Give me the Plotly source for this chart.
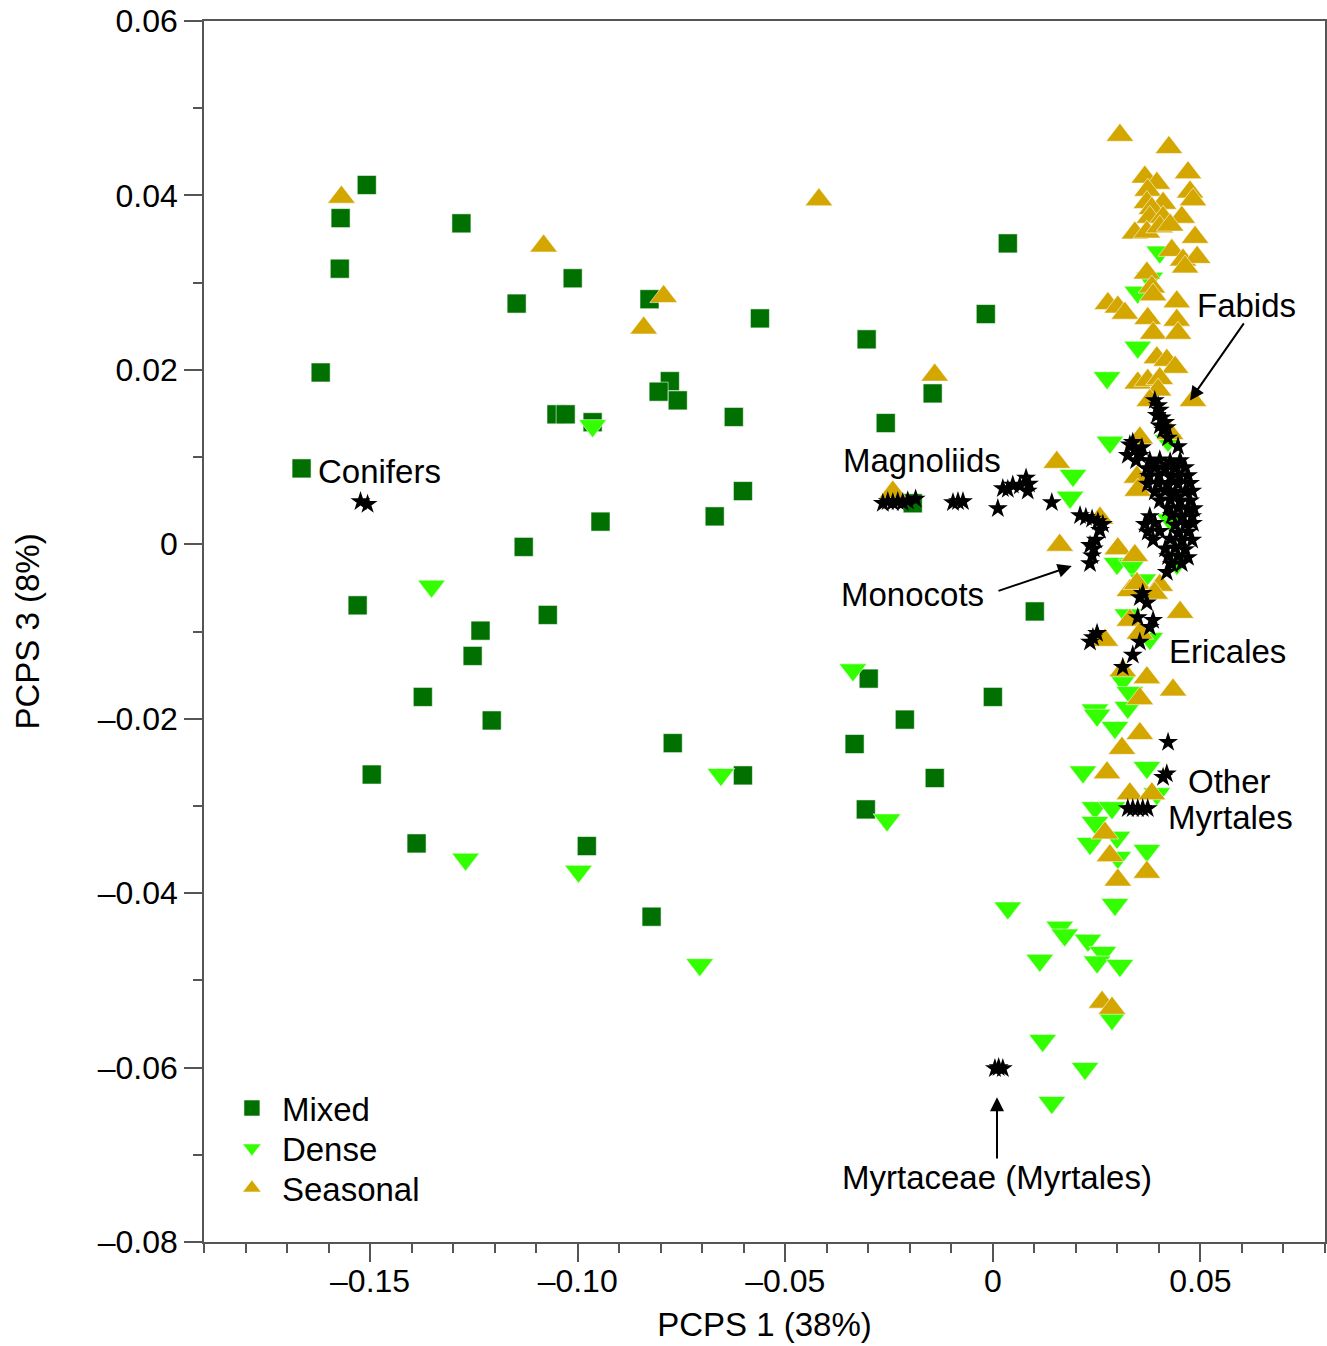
import plotly.graph_objects as go

# ---------------- data ----------------
mixed_x = [-0.1508, -0.1571, -0.1573, -0.1280, -0.1619, -0.1665, -0.1147, -0.1012, -0.0827, -0.0561,
           -0.0778, -0.0805, -0.0759, -0.1051, -0.1029, -0.0964, -0.0624, -0.0304, -0.0258, -0.0145,
           -0.0017, 0.0036, -0.0602, -0.0945, -0.0670, -0.0193, -0.1130, -0.1530, -0.1072, -0.1234,
           -0.1253, -0.1373, -0.1207, -0.1496, -0.0299, -0.0212, -0.0333, -0.0771, -0.0602, -0.0140,
           -0.0306, 0.0000, 0.0101, -0.1388, -0.0978, -0.0822]
mixed_y = [0.0412, 0.0374, 0.0316, 0.0368, 0.0197, 0.0087, 0.0276, 0.0305, 0.0281, 0.0259,
           0.0187, 0.0175, 0.0165, 0.0149, 0.0149, 0.0140, 0.0146, 0.0235, 0.0139, 0.0173,
           0.0264, 0.0345, 0.0061, 0.0026, 0.0032, 0.0047, -0.0003, -0.0070, -0.0081, -0.0099,
           -0.0128, -0.0175, -0.0202, -0.0264, -0.0154, -0.0201, -0.0229, -0.0228, -0.0265, -0.0268,
           -0.0304, -0.0175, -0.0077, -0.0343, -0.0346, -0.0427]

dense_x = [-0.1352, -0.0964, -0.1270, -0.0998, -0.0706, -0.0655, -0.0337, -0.0255, 0.0036, 0.0113,
           0.0120, 0.0142, 0.0222, 0.0161, 0.0173, 0.0229, 0.0265, 0.0251, 0.0306, 0.0287,
           0.0294, 0.0402, 0.0378, 0.0349, 0.0349, 0.0275, 0.0282, 0.0422, 0.0193, 0.0186,
           0.0299, 0.0335, 0.0361, 0.0325, 0.0378, 0.0313, 0.0330, 0.0246, 0.0325, 0.0443,
           0.0427, 0.0251, 0.0294, 0.0217, 0.0371, 0.0246, 0.0287, 0.0246, 0.0234, 0.0299,
           0.0301, 0.0371, 0.0395]
dense_y = [-0.0048, 0.0136, -0.0361, -0.0375, -0.0482, -0.0264, -0.0144, -0.0316, -0.0417, -0.0477,
           -0.0569, -0.0640, -0.0601, -0.0439, -0.0448, -0.0454, -0.0468, -0.0479, -0.0483, -0.0544,
           -0.0413, 0.0335, 0.0305, 0.0289, 0.0226, 0.0191, 0.0117, 0.0119, 0.0079, 0.0054,
           -0.0022, -0.0024, -0.0041, -0.0081, -0.0108, -0.0156, -0.0170, -0.0190, -0.0187, -0.0022,
           0.0028, -0.0196, -0.0210, -0.0261, -0.0256, -0.0302, -0.0302, -0.0319, -0.0343, -0.0336,
           -0.0359, -0.0351, -0.0286]

seasonal_x = [-0.1569, -0.1082, -0.0793, -0.0841, -0.0419, -0.0140, -0.0241, 0.0154, 0.0161, 0.0258,
              0.0306, 0.0424, 0.0366, 0.0395, 0.0470, 0.0373, 0.0475, 0.0482, 0.0410, 0.0371,
              0.0383, 0.0378, 0.0410, 0.0455, 0.0342, 0.0371, 0.0402, 0.0427, 0.0487, 0.0431,
              0.0458, 0.0492, 0.0463, 0.0371, 0.0383, 0.0386, 0.0277, 0.0301, 0.0318, 0.0443,
              0.0443, 0.0373, 0.0386, 0.0446, 0.0395, 0.0419, 0.0439, 0.0349, 0.0373, 0.0402,
              0.0398, 0.0378, 0.0482, 0.0354, 0.0427, 0.0347, 0.0349, 0.0301, 0.0342, 0.0330,
              0.0347, 0.0402, 0.0390, 0.0451, 0.0330, 0.0354, 0.0270, 0.0371, 0.0434, 0.0313,
              0.0354, 0.0354, 0.0311, 0.0275, 0.0330, 0.0383, 0.0270, 0.0282, 0.0371, 0.0301,
              0.0263, 0.0287]
seasonal_y = [0.0398, 0.0342, 0.0284, 0.0248, 0.0395, 0.0194, 0.0060, 0.0094, -0.0001, 0.0030,
              0.0469, 0.0455, 0.0421, 0.0414, 0.0426, 0.0406, 0.0404, 0.0395, 0.0391, 0.0392,
              0.0385, 0.0375, 0.0375, 0.0375, 0.0357, 0.0358, 0.0364, 0.0366, 0.0352, 0.0337,
              0.0326, 0.0329, 0.0318, 0.0311, 0.0295, 0.0286, 0.0276, 0.0272, 0.0265, 0.0278,
              0.0257, 0.0259, 0.0242, 0.0242, 0.0214, 0.0211, 0.0203, 0.0185, 0.0188, 0.0190,
              0.0177, 0.0165, 0.0165, 0.0122, 0.0127, 0.0077, 0.0062, -0.0005, -0.0013, -0.0053,
              -0.0045, -0.0047, -0.0056, -0.0078, -0.0087, -0.0102, -0.0110, -0.0153, -0.0167, -0.0145,
              -0.0177, -0.0217, -0.0234, -0.0262, -0.0286, -0.0286, -0.0331, -0.0357, -0.0376, -0.0385,
              -0.0525, -0.0532]

# clade positions (black stars)
star_x = [
    # Conifers
    -0.1523, -0.1506,
    # Magnoliids
    -0.0265, -0.0253, -0.0241, -0.0229, -0.0217, -0.0205, -0.0186,
    -0.0096, -0.0084, -0.0072, 0.0012,
    0.0024, 0.0036, 0.0048, 0.0065, 0.0080, 0.0087, 0.0084, 0.0142,
    # Monocots
    0.0210, 0.0224, 0.0239, 0.0253, 0.0265, 0.0258, 0.0248, 0.0243, 0.0239, 0.0234, 0.0234,
    0.0241, 0.0234, 0.0251,
    # Fabids column
    0.0390, 0.0398, 0.0402, 0.0395, 0.0407, 0.0402, 0.0410, 0.0422, 0.0446, 0.0415, 0.0419,
    # left blob
    0.0330, 0.0342, 0.0354, 0.0325, 0.0345, 0.0359, 0.0337,
    # main column
    0.0378, 0.0402, 0.0427, 0.0451,
    0.0371, 0.0390, 0.0415, 0.0439, 0.0463,
    0.0376, 0.0400, 0.0429, 0.0449, 0.0470,
    0.0373, 0.0398, 0.0422, 0.0446, 0.0475,
    0.0390, 0.0415, 0.0439, 0.0463, 0.0480,
    0.0402, 0.0427, 0.0451, 0.0475,
    0.0422, 0.0446, 0.0470, 0.0484,
    0.0378, 0.0431, 0.0455, 0.0480,
    0.0366, 0.0390, 0.0439, 0.0463, 0.0482,
    0.0373, 0.0402, 0.0446, 0.0470,
    0.0386, 0.0427, 0.0455, 0.0480,
    0.0415, 0.0439, 0.0463,
    0.0422, 0.0446, 0.0470,
    0.0431, 0.0455,
    0.0419,
    # Ericales
    0.0361, 0.0354, 0.0371, 0.0349, 0.0386, 0.0378, 0.0354, 0.0337, 0.0313,
    # Other Myrtales
    0.0422, 0.0410, 0.0419, 0.0325, 0.0337, 0.0349, 0.0361, 0.0373,
    # Myrtaceae
    0.0005, 0.0014, 0.0024,
]
star_y = [
    0.0049, 0.0046,
    0.0047, 0.0049, 0.0048, 0.0049, 0.0048, 0.0050, 0.0052,
    0.0048, 0.0049, 0.0049, 0.0041,
    0.0064, 0.0063, 0.0068, 0.0067, 0.0076, 0.0069, 0.0061, 0.0048,
    0.0033, 0.0031, 0.0029, 0.0026, 0.0023, 0.0016, 0.0005, -0.0005, -0.0013, -0.0001, -0.0022,
    -0.0107, -0.0112, -0.0102,
    0.0165, 0.0159, 0.0154, 0.0148, 0.0145, 0.0136, 0.0131, 0.0122, 0.0112, 0.0140, 0.0134,
    0.0114, 0.0108, 0.0102, 0.0102, 0.0096, 0.0111, 0.0117,
    0.0096, 0.0097, 0.0095, 0.0096,
    0.0087, 0.0088, 0.0086, 0.0087, 0.0088,
    0.0078, 0.0079, 0.0077, 0.0078, 0.0079,
    0.0069, 0.0070, 0.0068, 0.0069, 0.0070,
    0.0060, 0.0061, 0.0059, 0.0060, 0.0061,
    0.0050, 0.0051, 0.0049, 0.0050,
    0.0041, 0.0042, 0.0040, 0.0041,
    0.0032, 0.0033, 0.0031, 0.0032,
    0.0023, 0.0024, 0.0022, 0.0023, 0.0024,
    0.0014, 0.0015, 0.0013, 0.0014,
    0.0005, 0.0006, 0.0004, 0.0005,
    -0.0005, -0.0004, -0.0006,
    -0.0014, -0.0013, -0.0015,
    -0.0023, -0.0022,
    -0.0032,
    -0.0056, -0.0061, -0.0067, -0.0084, -0.0087, -0.0095, -0.0112, -0.0127, -0.0141,
    -0.0227, -0.0267, -0.0263, -0.0303, -0.0303, -0.0303, -0.0303, -0.0303,
    -0.0601, -0.0600, -0.0601,
]

# labels: (text, x, y)
label_text = ["Fabids", "Conifers", "Magnoliids", "Monocots", "Ericales", "Other", "Myrtales", "Myrtaceae (Myrtales)"]
label_x = [0.0612, -0.1477, -0.0171, -0.0193, 0.0564, 0.0571, 0.0573, 0.0010]
label_y = [0.0274, 0.0084, 0.0096, -0.0057, -0.0123, -0.0272, -0.0313, -0.0726]

# arrows: tail (ax, ay) -> head (x, y)
arrow_tail_x = [0.0607, 0.0010, 0.0010]
arrow_tail_y = [0.0255, -0.0054, -0.0706]
arrow_head_x = [0.0475, 0.0190, 0.0010]
arrow_head_y = [0.0165, -0.0025, -0.0634]

xtick_vals = [-0.15, -0.10, -0.05, 0, 0.05]
xtick_text = ["\u20130.15", "\u20130.10", "\u20130.05", "0", "0.05"]
ytick_vals = [0.06, 0.04, 0.02, 0, -0.02, -0.04, -0.06, -0.08]
ytick_text = ["0.06", "0.04", "0.02", "0", "\u20130.02", "\u20130.04", "\u20130.06", "\u20130.08"]

# ---------------- figure ----------------
FONT = "Liberation Sans, Arial, Helvetica, sans-serif"
FS = 33
TFS = 32
edge = dict(width=0.8, color="rgba(255,255,255,0.7)")

fig = go.Figure()
fig.add_trace(go.Scatter(x=mixed_x, y=mixed_y, mode="markers", name="Mixed", legend="legend",
                         marker=dict(symbol="square", size=19, color="#007000", line=edge)))
fig.add_trace(go.Scatter(x=dense_x, y=dense_y, mode="markers", name="Dense", legend="legend2",
                         marker=dict(symbol="triangle-down", size=24, color="#33ff00", line=edge)))
fig.add_trace(go.Scatter(x=seasonal_x, y=seasonal_y, mode="markers", name="Seasonal", legend="legend3",
                         marker=dict(symbol="triangle-up", size=24, color="#d4a600", line=edge)))
fig.add_trace(go.Scatter(x=star_x, y=star_y, mode="markers", name="Clades", showlegend=False,
                         marker=dict(symbol="star", size=15, color="black", line=dict(width=0))))

annotations = []
for t, x, y in zip(label_text, label_x, label_y):
    annotations.append(dict(x=x, y=y, xref="x", yref="y", text=t, showarrow=False,
                            font=dict(family=FONT, size=FS, color="black"), align="center"))
for tx, ty, hx, hy in zip(arrow_tail_x, arrow_tail_y, arrow_head_x, arrow_head_y):
    annotations.append(dict(x=hx, y=hy, ax=tx, ay=ty, xref="x", yref="y", axref="x", ayref="y",
                            text="", showarrow=True, arrowhead=2, arrowsize=1.4, arrowwidth=2,
                            arrowcolor="black"))

axis_common = dict(showgrid=False, zeroline=False, showline=True, linecolor="#555555", linewidth=1.5,
                   mirror=True, ticks="outside", ticklen=18, tickwidth=1.5, tickcolor="#555555",
                   tickfont=dict(family=FONT, size=TFS, color="black"))

leg_common = dict(x=0.016, xanchor="left", yanchor="middle", bgcolor="rgba(0,0,0,0)",
                  font=dict(family=FONT, size=FS), itemsizing="trace", itemwidth=50)

fig.update_layout(
    width=1327, height=1346,
    margin=dict(l=204, r=0, t=21, b=104),
    plot_bgcolor="white", paper_bgcolor="white",
    font=dict(family=FONT, size=FS, color="black"),
    xaxis=dict(range=[-0.19, 0.08], tickmode="array", tickvals=xtick_vals, ticktext=xtick_text,
               minor=dict(dtick=0.01, tick0=0, ticks="outside", ticklen=9, tickwidth=1.5, tickcolor="#555555"),
               ticklabelstandoff=-8, automargin=False,
               title=dict(text="PCPS 1 (38%)", font=dict(family=FONT, size=FS)),
               **axis_common),
    yaxis=dict(range=[-0.08, 0.06], tickmode="array", tickvals=ytick_vals, ticktext=ytick_text,
               minor=dict(dtick=0.01, tick0=0, ticks="outside", ticklen=9, tickwidth=1.5, tickcolor="#555555"),
               automargin=True,
               title=dict(text="PCPS 3 (8%)", font=dict(family=FONT, size=FS), standoff=48),
               **axis_common),
    legend=dict(y=0.1097, **leg_common),
    legend2=dict(y=0.0770, **leg_common),
    legend3=dict(y=0.0442, **leg_common),
    annotations=annotations,
    showlegend=True,
)

fig.write_html("out.html", config={"displayModeBar": False},
               post_script="document.body.style.margin='0';document.body.style.padding='0';")
